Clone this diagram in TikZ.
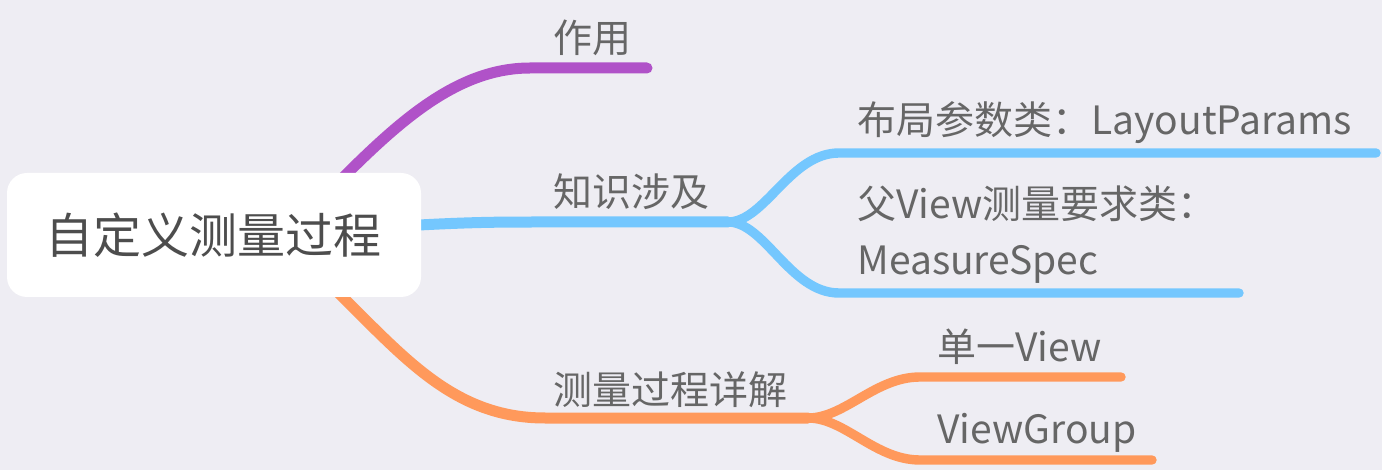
\documentclass[tikz,border=0pt]{standalone}
\usepackage{fontspec}
\setmainfont{Noto Sans CJK SC}
\usetikzlibrary{backgrounds}
\definecolor{bgcol}{HTML}{EEEDF3}
\definecolor{rootgray}{HTML}{4D4D4D}
\definecolor{topicgray}{HTML}{666666}
\definecolor{purplebr}{HTML}{B052C8}
\definecolor{bluebr}{HTML}{74C7FE}
\definecolor{orangebr}{HTML}{FF995B}
\begin{document}
\begin{tikzpicture}[x=0.5pt, y=-0.5pt,
      every node/.style={inner sep=0pt},
      rootbox/.style={fill=white, rounded corners=10pt, minimum width=207pt,
                      minimum height=62pt, font=\fontsize{24}{28}\selectfont,
                      text=rootgray},
      topic/.style={anchor=west, font=\fontsize{19.5}{28}\selectfont,
                    text=topicgray, align=left},
      mainline/.style={line width=5.5pt, line cap=round},
      subline/.style={line width=4.7pt, line cap=round},
    ]
    \useasboundingbox (0,0) rectangle (1382,470);

    % --- root ---
    \node[rootbox] (root) at (214,235) {自定义测量过程};

    % --- topics ---
    \node[topic] (zuoyong) at (553,38) {作用};
    \node[topic] (zhishi) at (553,192) {知识涉及};
    \node[topic] (layout) at (857,123) {布局参数类：LayoutParams};
    \node[topic] (spec) at (857,235) {父View测量要求类：\\MeasureSpec};
    \node[topic] (guocheng) at (553,390) {测量过程详解};
    \node[topic] (single) at (937,347) {单一View};
    \node[topic] (group) at (937,433) {ViewGroup};

    % line ends and forks
    \coordinate (zuoyong-end) at (647,68);
    \coordinate (zhishi-fork) at (728,222);
    \coordinate (layout-end) at (1376,153);
    \coordinate (spec-end) at (1239,293);
    \coordinate (guocheng-fork) at (808,418);
    \coordinate (single-end) at (1121,377);
    \coordinate (group-end) at (1152,460);

    \begin{pgfonlayer}{background}
      \fill[bgcol] (0,0) rectangle (1382,470);
      % --- purple branch ---
      \draw[mainline, purplebr] ([shift={(117,17)}]root.north)
        .. controls (395,125) and (455,68) .. (530,68) -- (zuoyong-end);
      % --- blue branch ---
      \draw[mainline, bluebr] ([shift={(-20,-9)}]root.east)
        .. controls (470,222) and (500,222) .. (540,222) -- (zhishi-fork);
      \draw[subline, bluebr] (zhishi-fork)
        .. controls (765,222) and (790,153) .. (839,153) -- (layout-end);
      \draw[subline, bluebr] (zhishi-fork)
        .. controls (765,222) and (790,293) .. (839,293) -- (spec-end);
      % --- orange branch ---
      \draw[mainline, orangebr] ([shift={(101,-27)}]root.south)
        .. controls (395,345) and (445,418) .. (545,418) -- (guocheng-fork);
      \draw[subline, orangebr] (guocheng-fork)
        .. controls (845,418) and (875,377) .. (920,377) -- (single-end);
      \draw[subline, orangebr] (guocheng-fork)
        .. controls (845,418) and (875,460) .. (920,460) -- (group-end);
    \end{pgfonlayer}
  \end{tikzpicture}
\end{document}
